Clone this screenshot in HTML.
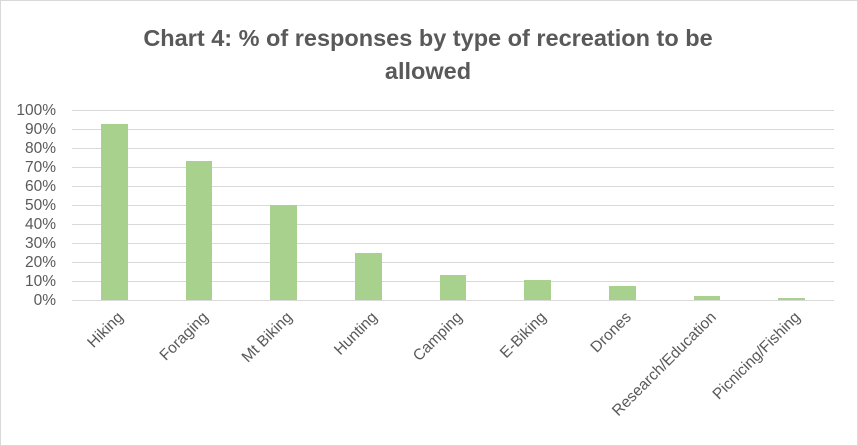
<!DOCTYPE html>
<html><head><style>
body{margin:0;background:#fff}
svg{display:block;font-family:"Liberation Sans",Arial,sans-serif}
</style></head><body>
<svg width="858" height="446" viewBox="0 0 858 446">
<rect x="0.5" y="0.5" width="857" height="445" fill="#fff" stroke="#d9d9d9"/>
<text x="428" y="46" text-anchor="middle" font-size="23.5" font-weight="bold" fill="#595959">Chart 4: % of responses by type of recreation to be</text>
<text x="428" y="79" text-anchor="middle" font-size="23.5" font-weight="bold" fill="#595959">allowed</text>
<g stroke="#d9d9d9" stroke-width="1">
<line x1="72" x2="834" y1="110.5" y2="110.5"/><line x1="72" x2="834" y1="129.5" y2="129.5"/>
<line x1="72" x2="834" y1="148.5" y2="148.5"/><line x1="72" x2="834" y1="167.5" y2="167.5"/>
<line x1="72" x2="834" y1="186.5" y2="186.5"/><line x1="72" x2="834" y1="205.5" y2="205.5"/>
<line x1="72" x2="834" y1="224.5" y2="224.5"/><line x1="72" x2="834" y1="243.5" y2="243.5"/>
<line x1="72" x2="834" y1="262.5" y2="262.5"/><line x1="72" x2="834" y1="281.5" y2="281.5"/>
<line x1="72" x2="834" y1="300.5" y2="300.5"/>
</g>
<g font-size="15.5" fill="#595959" text-anchor="end">
<text x="56" y="115">100%</text><text x="56" y="134">90%</text><text x="56" y="153">80%</text>
<text x="56" y="172">70%</text><text x="56" y="191">60%</text><text x="56" y="210">50%</text>
<text x="56" y="229">40%</text><text x="56" y="248">30%</text><text x="56" y="267">20%</text>
<text x="56" y="286">10%</text><text x="56" y="305">0%</text>
</g>
<g fill="#a9d18e">
<rect x="101" y="124" width="27" height="176"/>
<rect x="186" y="161" width="26" height="139"/>
<rect x="270" y="205" width="27" height="95"/>
<rect x="355" y="253" width="27" height="47"/>
<rect x="440" y="275" width="26" height="25"/>
<rect x="524" y="280" width="27" height="20"/>
<rect x="609" y="286" width="27" height="14"/>
<rect x="694" y="296" width="26" height="4"/>
<rect x="778" y="298" width="27" height="2"/>
</g>
<g font-size="15.5" fill="#595959" text-anchor="end">
<text transform="translate(124,318) rotate(-45)">Hiking</text>
<text transform="translate(209,318) rotate(-45)">Foraging</text>
<text transform="translate(293,318) rotate(-45)">Mt Biking</text>
<text transform="translate(378,318) rotate(-45)">Hunting</text>
<text transform="translate(463,318) rotate(-45)">Camping</text>
<text transform="translate(547,318) rotate(-45)">E-Biking</text>
<text transform="translate(632,318) rotate(-45)">Drones</text>
<text transform="translate(717,318) rotate(-45)">Research/Education</text>
<text transform="translate(801,318) rotate(-45)">Picnicing/Fishing</text>
</g>
</svg>
</body></html>
